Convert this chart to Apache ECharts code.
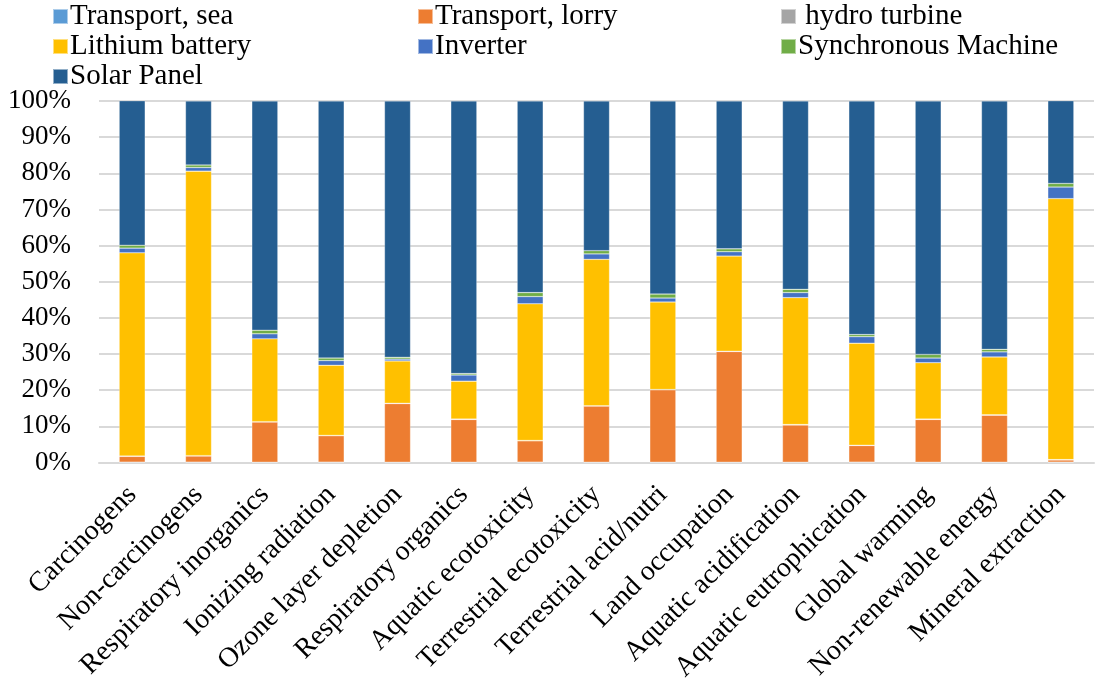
<!DOCTYPE html>
<html>
<head>
<meta charset="utf-8">
<script src="https://cdn.jsdelivr.net/npm/echarts@6/dist/echarts.min.js"></script>
<style>html,body{margin:0;padding:0;background:#fff;}#c{width:1098px;height:691px;}</style>
</head>
<body>
<div id="c"></div>
<script>
const categories = ['Carcinogens','Non-carcinogens','Respiratory inorganics','Ionizing radiation','Ozone layer depletion','Respiratory organics','Aquatic ecotoxicity','Terrestrial ecotoxicity','Terrestrial acid/nutri','Land occupation','Aquatic acidification','Aquatic eutrophication','Global warming','Non-renewable energy','Mineral extraction'];
const transportSea   = [0.1,0.1,0.1,0.1,0.1,0.1,0.1,0.1,0.1,0.1,0.1,0.1,0.1,0.1,0.1];
const transportLorry = [1.6,1.7,11.1,7.3,16.2,11.8,5.9,15.5,20.0,30.6,10.3,4.6,11.8,13.0,0.6];
const hydroTurbine   = [0.1,0.1,0.1,0.1,0.1,0.1,0.1,0.1,0.1,0.1,0.1,0.1,0.1,0.1,0.1];
const lithiumBattery = [56.2,78.7,22.9,19.4,11.7,10.5,37.8,40.5,24.2,26.3,35.1,28.2,15.6,16.0,72.2];
const inverter       = [1.3,1.0,1.4,1.3,0.5,1.7,2.0,1.5,1.1,1.2,1.4,1.8,1.3,1.4,3.2];
const synchronous    = [0.8,0.7,1.0,0.7,0.5,0.4,1.1,0.9,1.1,0.8,0.9,0.6,1.0,0.7,1.0];
const solarPanel     = [40.0,17.7,63.4,71.1,70.9,75.4,53.0,41.4,53.4,40.9,52.1,64.6,70.1,68.7,22.9];
const yTicks = [0,10,20,30,40,50,60,70,80,90,100];

const FONT = '"Liberation Serif", "Times New Roman", serif';
const seriesDefs = [
  ['Transport, sea', transportSea, '#5B9BD5'],
  ['Transport, lorry', transportLorry, '#ED7D31'],
  [' hydro turbine', hydroTurbine, '#A5A5A5'],
  ['Lithium battery', lithiumBattery, '#FFC000'],
  ['Inverter', inverter, '#4472C4'],
  ['Synchronous Machine', synchronous, '#70AD47'],
  ['Solar Panel', solarPanel, '#255E91']
];
const legendCommon = {
  orient: 'vertical', top: 1.5, itemWidth: 15, itemHeight: 15, itemGap: 0,
  icon: 'rect', padding: 0,
  textStyle: { fontFamily: FONT, fontSize: 29, lineHeight: 30, color: '#000', padding: [0,0,0,-3] }
};
const chart = echarts.init(document.getElementById('c'));
chart.setOption({
  animation: false,
  legend: [
    Object.assign({}, legendCommon, { left: 52, data: ['Transport, sea','Lithium battery','Solar Panel'] }),
    Object.assign({}, legendCommon, { left: 417, data: ['Transport, lorry','Inverter'] }),
    Object.assign({}, legendCommon, { left: 780, data: [' hydro turbine','Synchronous Machine'] })
  ],
  grid: { left: 99, right: 4, top: 101, bottom: 228.5, containLabel: false },
  xAxis: {
    type: 'category', data: categories,
    axisTick: { show: false },
    axisLine: { lineStyle: { color: '#D9D9D9', width: 2 } },
    axisLabel: { rotate: 45, interval: 0, fontFamily: FONT, fontSize: 28, color: '#000', margin: 28 }
  },
  yAxis: {
    type: 'value', min: 0, max: 100, interval: 10,
    axisLine: { show: false }, axisTick: { show: false },
    splitLine: { lineStyle: { color: '#D9D9D9', width: 2 } },
    axisLabel: { formatter: '{value}%', fontFamily: FONT, fontSize: 27, color: '#000', margin: 28 }
  },
  series: seriesDefs.map(([name, data, color]) => ({
    name, type: 'bar', stack: 'total', data, barWidth: 26,
    itemStyle: { color, borderColor: 'rgba(255,255,255,0.5)', borderWidth: 0.5 }
  }))
});
</script>
</body>
</html>
